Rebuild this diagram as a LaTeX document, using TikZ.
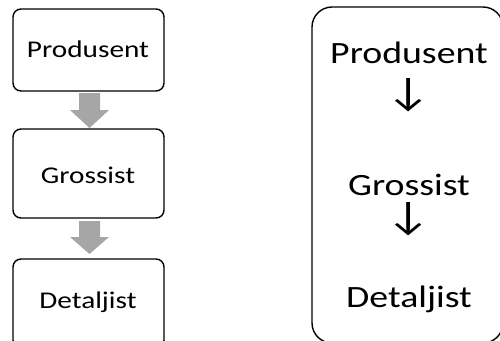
\documentclass[tikz,border=0pt]{standalone}
\usepackage{fontspec}
\setmainfont{Carlito}[FakeStretch=1.22]
\begin{document}
\begin{tikzpicture}[x=1pt,y=-1pt,
  stage/.style={draw=black,line width=1.4pt,rounded corners=8pt,minimum width=151pt,inner sep=0pt},
  flowarrow/.style={fill=black!35,draw=none},
  lbl/.style={font=\fontsize{24}{28}\selectfont,inner sep=0pt,anchor=base},
  biglbl/.style={font=\fontsize{31}{36}\selectfont,inner sep=0pt,anchor=base},
  downsym/.style={font=\fontsize{40}{44}\selectfont,inner sep=0pt}]
\useasboundingbox (0,0) rectangle (500,340);
\begin{scope}
\clip (0,0) rectangle (500,340);
% left column of stage boxes
\node[stage,minimum height=82pt] (prod) at (88.5,50) {};
\node[stage,minimum height=89pt] (gros) at (88.5,173.5) {};
\node[stage,minimum height=89pt] (det) at (88.5,303.5) {};
\node[lbl] (tprod) at (88,57) {Produsent};
\node[lbl] (tgros) at (88,183) {Grossist};
\node[lbl] (tdet) at (88,308) {Detaljist};
% block arrows between the boxes
\fill[flowarrow] (79,93) -- (100,93) -- (100,110) -- (109,110) -- (89.5,128) -- (70,110) -- (79,110) -- cycle;
\fill[flowarrow] (79,221) -- (100,221) -- (100,237) -- (109,237) -- (89.5,254) -- (70,237) -- (79,237) -- cycle;
% right panel with the same chain as text
\draw[line width=1.4pt,rounded corners=20pt] (312,7) rectangle (503,343);
\node[biglbl] (rprod) at (409,63) {Produsent};
\node[downsym] (ra1) at (409,95) {↓};
\node[biglbl] (rgros) at (409,195) {Grossist};
\node[downsym] (ra2) at (409,219) {↓};
\node[biglbl] (rdet) at (409,307) {Detaljist};
\end{scope}
\end{tikzpicture}
\end{document}
